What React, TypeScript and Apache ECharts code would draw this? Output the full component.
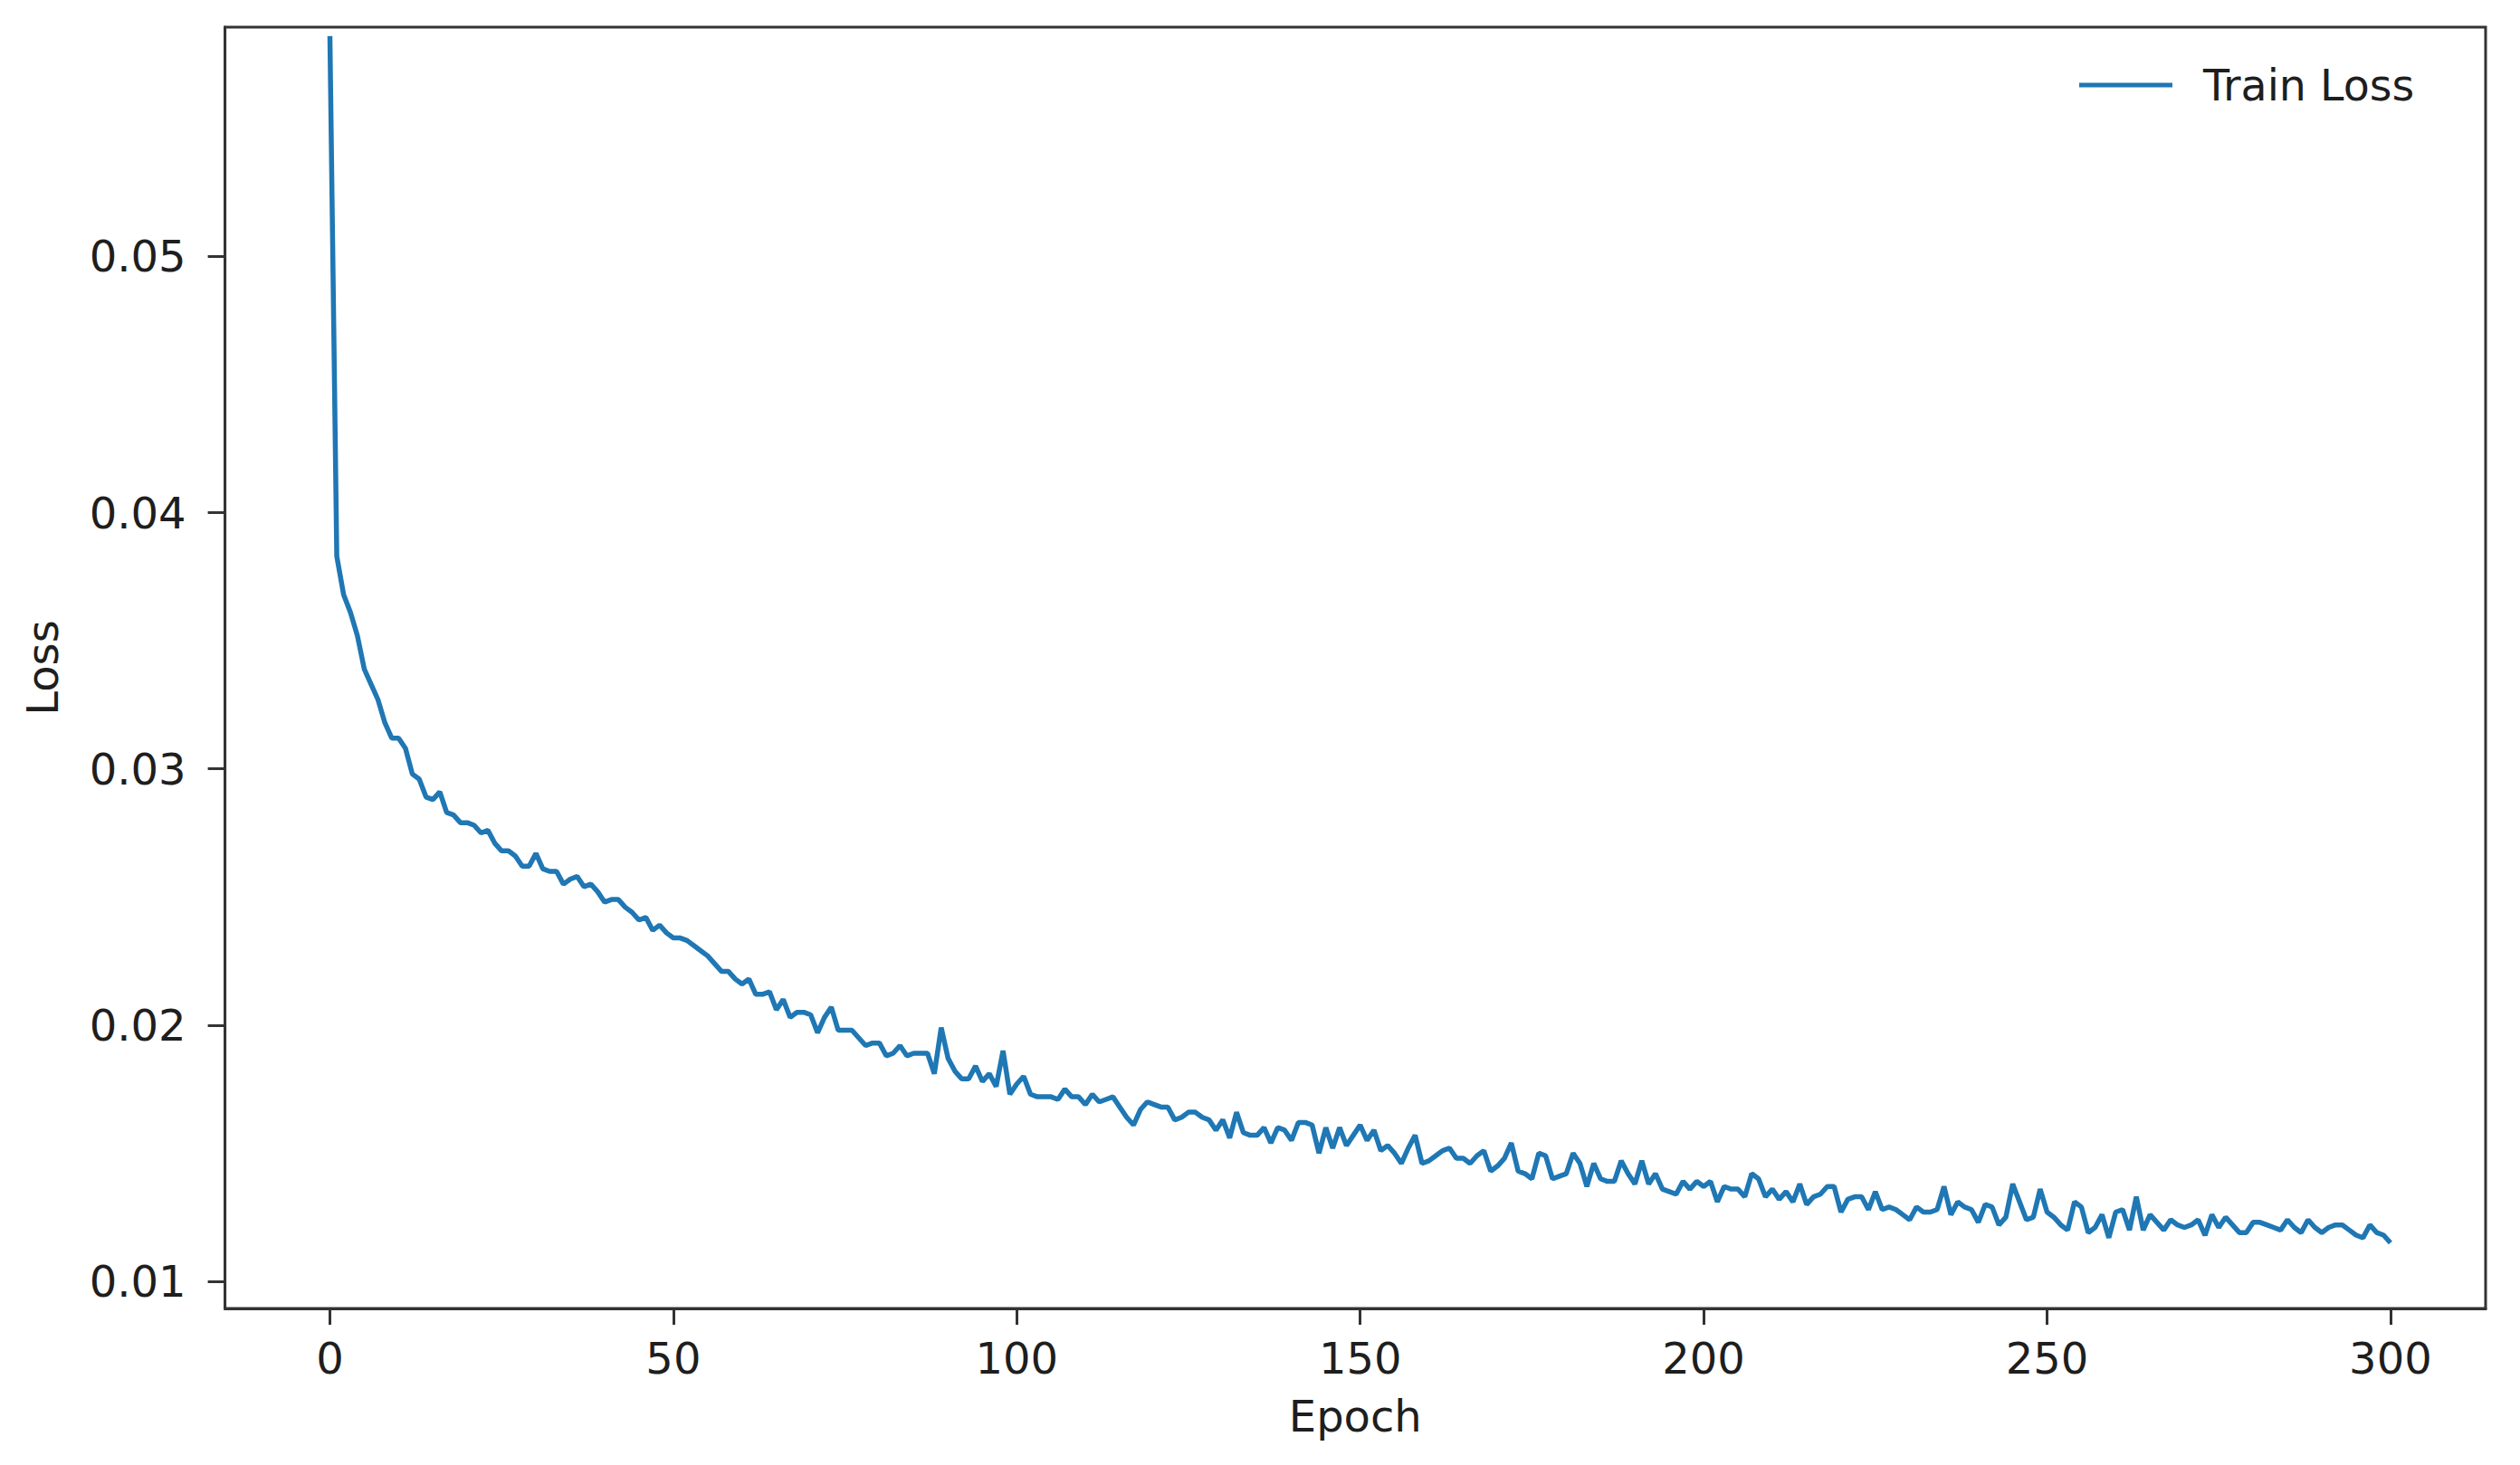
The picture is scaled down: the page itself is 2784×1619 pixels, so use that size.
import React, { useEffect, useRef } from "react";
import * as echarts from "echarts";

const epochTicks = [0, 50, 100, 150, 200, 250, 300];
const lossTicks = [0.01, 0.02, 0.03, 0.04, 0.05];
const seriesName = "Train Loss";
const xAxisName = "Epoch";
const yAxisName = "Loss";

// Train loss per epoch (epochs 0..300)
const loss000 = [
  0.0586, 0.0383, 0.0368, 0.0361, 0.0352, 0.0339, 0.0333, 0.0327, 0.0318, 0.0312,
  0.0312, 0.0308, 0.0298, 0.0296, 0.0289, 0.0288, 0.0291, 0.0283, 0.0282, 0.0279,
  0.0279, 0.0278, 0.0275, 0.0276, 0.0271, 0.0268, 0.0268, 0.0266, 0.0262, 0.0262,
  0.0267, 0.0261, 0.026, 0.026, 0.0255, 0.0257, 0.0258, 0.0254, 0.0255, 0.0252,
  0.0248, 0.0249, 0.0249, 0.0246, 0.0244, 0.0241, 0.0242, 0.0237, 0.0239, 0.0236,
];
const loss050 = [
  0.0234, 0.0234, 0.0233, 0.0231, 0.0229, 0.0227, 0.0224, 0.0221, 0.0221, 0.0218,
  0.0216, 0.0218, 0.0212, 0.0212, 0.0213, 0.0206, 0.021, 0.0203, 0.0205, 0.0205,
  0.0204, 0.0197, 0.0203, 0.0207, 0.0198, 0.0198, 0.0198, 0.0195, 0.0192, 0.0193,
  0.0193, 0.0188, 0.0189, 0.0192, 0.0188, 0.0189, 0.0189, 0.0189, 0.0181, 0.0199,
  0.0187, 0.0182, 0.0179, 0.0179, 0.0184, 0.0178, 0.0181, 0.0176, 0.019, 0.0173,
];
const loss100 = [
  0.0177, 0.018, 0.0173, 0.0172, 0.0172, 0.0172, 0.0171, 0.0175, 0.0172, 0.0172,
  0.0169, 0.0173, 0.017, 0.0171, 0.0172, 0.0168, 0.0164, 0.0161, 0.0167, 0.017,
  0.0169, 0.0168, 0.0168, 0.0163, 0.0164, 0.0166, 0.0166, 0.0164, 0.0163, 0.0159,
  0.0163, 0.0156, 0.0166, 0.0158, 0.0157, 0.0157, 0.016, 0.0154, 0.016, 0.0159,
  0.0155, 0.0162, 0.0162, 0.0161, 0.015, 0.016, 0.0152, 0.016, 0.0153, 0.0157,
];
const loss150 = [
  0.0161, 0.0155, 0.0159, 0.0151, 0.0153, 0.015, 0.0146, 0.0152, 0.0157, 0.0146,
  0.0147, 0.0149, 0.0151, 0.0152, 0.0148, 0.0148, 0.0146, 0.0149, 0.0151, 0.0143,
  0.0145, 0.0148, 0.0154, 0.0143, 0.0142, 0.014, 0.015, 0.0149, 0.014, 0.0141,
  0.0142, 0.015, 0.0146, 0.0137, 0.0146, 0.014, 0.0139, 0.0139, 0.0147, 0.0142,
  0.0138, 0.0147, 0.0138, 0.0142, 0.0136, 0.0135, 0.0134, 0.0139, 0.0136, 0.0139,
];
const loss200 = [
  0.0137, 0.0139, 0.0131, 0.0137, 0.0136, 0.0136, 0.0133, 0.0142, 0.014, 0.0133,
  0.0136, 0.0132, 0.0135, 0.0131, 0.0138, 0.013, 0.0133, 0.0134, 0.0137, 0.0137,
  0.0127, 0.0132, 0.0133, 0.0133, 0.0128, 0.0135, 0.0128, 0.0129, 0.0128, 0.0126,
  0.0124, 0.0129, 0.0127, 0.0127, 0.0128, 0.0137, 0.0126, 0.0131, 0.0129, 0.0128,
  0.0123, 0.013, 0.0129, 0.0122, 0.0125, 0.0138, 0.0131, 0.0124, 0.0125, 0.0136,
];
const loss250 = [
  0.0127, 0.0125, 0.0122, 0.012, 0.0131, 0.0129, 0.0119, 0.0121, 0.0126, 0.0117,
  0.0127, 0.0128, 0.012, 0.0133, 0.012, 0.0126, 0.0123, 0.012, 0.0124, 0.0122,
  0.0121, 0.0122, 0.0124, 0.0118, 0.0126, 0.0121, 0.0125, 0.0122, 0.0119, 0.0119,
  0.0123, 0.0123, 0.0122, 0.0121, 0.012, 0.0124, 0.0121, 0.0119, 0.0124, 0.0121,
  0.0119, 0.0121, 0.0122, 0.0122, 0.012, 0.0118, 0.0117, 0.0122, 0.0119, 0.0118,
  0.0115,
];

const trainLoss = [...loss000, ...loss050, ...loss100, ...loss150, ...loss200, ...loss250];
const epochs = trainLoss.map((_, i) => i);

const FONT = "DejaVu Sans";
const TEXT = "#1e1e1e";
const AXIS = "#333333";
const BLUE = "#1f77b4";

export default function App() {
  const ref = useRef<HTMLDivElement | null>(null);

  useEffect(() => {
    document.body.style.margin = "0";
    if (!ref.current) return;
    const chart = echarts.init(ref.current, undefined, { renderer: "svg" });
    chart.setOption({
      animation: false,
      backgroundColor: "#ffffff",
      textStyle: { fontFamily: FONT },
      grid: {
        left: 248.6,
        right: 38,
        top: 30,
        bottom: 173,
        show: true,
        borderColor: AXIS,
        borderWidth: 3,
        backgroundColor: "transparent",
      },
      legend: {
        show: true,
        data: [{ name: seriesName, icon: "rect" }],
        left: 2297,
        top: 70,
        padding: 0,
        itemWidth: 103,
        itemHeight: 5,
        textStyle: {
          fontFamily: FONT,
          fontSize: 47.5,
          color: TEXT,
          lineHeight: 46,
          padding: [0, 0, 0, 29],
        },
      },
      xAxis: {
        type: "value",
        min: -15.27,
        max: 313.85,
        name: xAxisName,
        nameLocation: "middle",
        nameGap: 95,
        nameTextStyle: { fontFamily: FONT, fontSize: 48, color: TEXT },
        axisLine: { show: true, onZero: false, lineStyle: { color: AXIS, width: 3 } },
        axisTick: {
          show: true,
          length: 18,
          customValues: epochTicks,
          lineStyle: { color: AXIS, width: 3 },
        },
        axisLabel: {
          customValues: epochTicks,
          fontFamily: FONT,
          fontSize: 48,
          color: TEXT,
          margin: 31,
          formatter: (v: number) => String(v),
        },
        splitLine: { show: false },
      },
      yAxis: {
        type: "value",
        min: 0.00894,
        max: 0.05895,
        name: yAxisName,
        nameLocation: "middle",
        nameRotate: 90,
        nameGap: 178,
        nameTextStyle: { fontFamily: FONT, fontSize: 48, color: TEXT },
        axisLine: { show: true, onZero: false, lineStyle: { color: AXIS, width: 3 } },
        axisTick: {
          show: true,
          length: 19,
          customValues: lossTicks,
          lineStyle: { color: AXIS, width: 3 },
        },
        axisLabel: {
          customValues: lossTicks,
          fontFamily: FONT,
          fontSize: 48,
          color: TEXT,
          margin: 43,
          formatter: (v: number) => v.toFixed(2),
        },
        splitLine: { show: false },
      },
      series: [
        {
          name: seriesName,
          type: "line",
          data: epochs.map((e, i) => [e, trainLoss[i]]),
          showSymbol: false,
          symbol: "none",
          lineStyle: { width: 5.5, color: BLUE },
          itemStyle: { color: BLUE },
          clip: true,
        },
      ],
    });
    return () => chart.dispose();
  }, []);

  return <div ref={ref} style={{ width: 2784, height: 1619 }} />;
}
